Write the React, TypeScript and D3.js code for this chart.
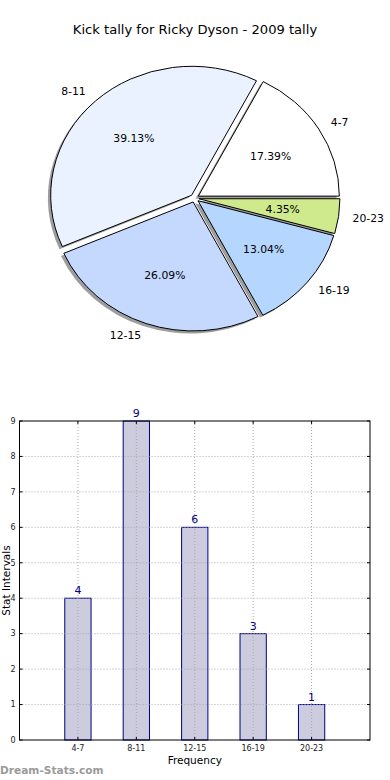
import React from "react";
import * as d3 from "d3";

const categories = ["4-7", "8-11", "12-15", "16-19", "20-23"];
const counts = [4, 9, 6, 3, 1];
const sliceColors = ["#ffffff", "#eaf2ff", "#c5d9ff", "#b5d6fe", "#cfe98d"];
const yTickValues = [0, 1, 2, 3, 4, 5, 6, 7, 8, 9];

const W = 390;
const H = 780;
const font = "DejaVu Sans, sans-serif";

// pie geometry (matplotlib stretched pie -> ellipse)
const cx = 194.6;
const cy = 198.2;
const rx = 141;
const ry = 129;
const explode = 0.031;

const PieChart = () => {
  const total = d3.sum(counts);
  const pie = d3
    .pie<number>()
    .sort(null)
    .startAngle(Math.PI / 2)
    .endAngle(Math.PI / 2 - 2 * Math.PI);
  const arcs = pie(counts);
  const arc = d3.arc<d3.PieArcDatum<number>>().innerRadius(0).outerRadius(1);

  const dir = (d: d3.PieArcDatum<number>) => {
    const a = (d.startAngle + d.endAngle) / 2;
    return [Math.sin(a), -Math.cos(a)];
  };

  return (
    <g>
      {arcs.map((d, i) => {
        const [ux, uy] = dir(d);
        const ox = cx + ux * explode * rx - 0.02 * rx;
        const oy = cy + uy * explode * ry + 0.02 * ry;
        return (
          <path
            key={"s" + i}
            d={arc(d) || ""}
            transform={`translate(${ox},${oy}) scale(${rx},${ry})`}
            fill="#4d4d4d"
            fillOpacity={0.55}
          />
        );
      })}
      {arcs.map((d, i) => {
        const [ux, uy] = dir(d);
        const ox = cx + ux * explode * rx;
        const oy = cy + uy * explode * ry;
        return (
          <path
            key={"w" + i}
            d={arc(d) || ""}
            transform={`translate(${ox},${oy}) scale(${rx},${ry})`}
            fill={sliceColors[i]}
            stroke="#000"
            strokeWidth={1}
            vectorEffect="non-scaling-stroke"
          />
        );
      })}
      {arcs.map((d, i) => {
        const [ux, uy] = dir(d);
        const lx = cx + ux * (1.1 + explode) * rx;
        const ly = cy + uy * (1.1 + explode) * ry;
        const px = cx + ux * (0.6 + explode) * rx;
        const py = cy + uy * (0.6 + explode) * ry;
        return (
          <g key={"l" + i} fontFamily={font} fontSize={10.8}>
            <text x={lx} y={ly} dy="0.35em" textAnchor={ux > 0 ? "start" : "end"}>
              {categories[i]}
            </text>
            <text x={px} y={py} dy="0.35em" textAnchor="middle">
              {((counts[i] / total) * 100).toFixed(2) + "%"}
            </text>
          </g>
        );
      })}
    </g>
  );
};

const BarChart = () => {
  const x = d3.scaleLinear().domain([0, 6]).range([19.5, 370]);
  const y = d3.scaleLinear().domain([0, 9]).range([740, 421]);
  const bw = x(0.45) - x(0);
  const [x0, x1] = x.range();
  const [y0, y1] = y.range();

  return (
    <g fontFamily={font}>
      {counts.map((c, i) => (
        <rect
          key={"b" + i}
          x={x(i + 1) - bw / 2}
          y={y(c)}
          width={bw}
          height={y(0) - y(c)}
          fill="#ccccde"
          stroke="#000080"
          strokeWidth={1}
        />
      ))}
      {categories.map((_, i) => (
        <line
          key={"gx" + i}
          x1={x(i + 1)}
          x2={x(i + 1)}
          y1={y0}
          y2={y1}
          stroke="#a8a8a8"
          strokeWidth={1}
          strokeDasharray="1,2"
        />
      ))}
      {yTickValues.slice(1, -1).map((t) => (
        <line
          key={"gy" + t}
          x1={x0}
          x2={x1}
          y1={y(t)}
          y2={y(t)}
          stroke="#a8a8a8"
          strokeWidth={1}
          strokeDasharray="1,2"
        />
      ))}
      {counts.map((c, i) => (
        <text
          key={"v" + i}
          x={x(i + 1)}
          y={y(c) - 4}
          textAnchor="middle"
          fontSize={11}
          fill="#000080"
        >
          {c}
        </text>
      ))}
      {yTickValues.map((t) => (
        <g key={"ty" + t}>
          <line x1={x0} x2={x0 + 3} y1={y(t)} y2={y(t)} stroke="#000" />
          <line x1={x1} x2={x1 - 3} y1={y(t)} y2={y(t)} stroke="#000" />
          <text x={x0 - 4} y={y(t)} dy="0.35em" textAnchor="end" fontSize={8} fill="#222">
            {t}
          </text>
        </g>
      ))}
      {categories.map((c, i) => (
        <g key={"tx" + i}>
          <line x1={x(i + 1)} x2={x(i + 1)} y1={y0} y2={y0 - 3} stroke="#000" />
          <line x1={x(i + 1)} x2={x(i + 1)} y1={y1} y2={y1 + 3} stroke="#000" />
          <text x={x(i + 1)} y={y0 + 11} textAnchor="middle" fontSize={8} fill="#222">
            {c}
          </text>
        </g>
      ))}
      <rect x={x0} y={y1} width={x1 - x0} height={y0 - y1} fill="none" stroke="#000" strokeWidth={1} />
      <text x={(x0 + x1) / 2} y={764} textAnchor="middle" fontSize={10.5}>
        Frequency
      </text>
      <text
        transform={`translate(9.5,${(y0 + y1) / 2}) rotate(-90)`}
        textAnchor="middle"
        fontSize={10.5}
      >
        Stat Intervals
      </text>
    </g>
  );
};

export default function App() {
  return (
    <svg
      width={W}
      height={H}
      style={{ position: "absolute", left: 0, top: 0, background: "#fff" }}
    >
      <rect width={W} height={H} fill="#fff" />
      <text x={195} y={34} textAnchor="middle" fontFamily={font} fontSize={13.1}>
        Kick tally for Ricky Dyson - 2009 tally
      </text>
      <PieChart />
      <BarChart />
      <text x={0} y={774} fontFamily={font} fontSize={10.6} fontWeight={600} fill="#9a9a9a">
        Dream-Stats.com
      </text>
    </svg>
  );
}
